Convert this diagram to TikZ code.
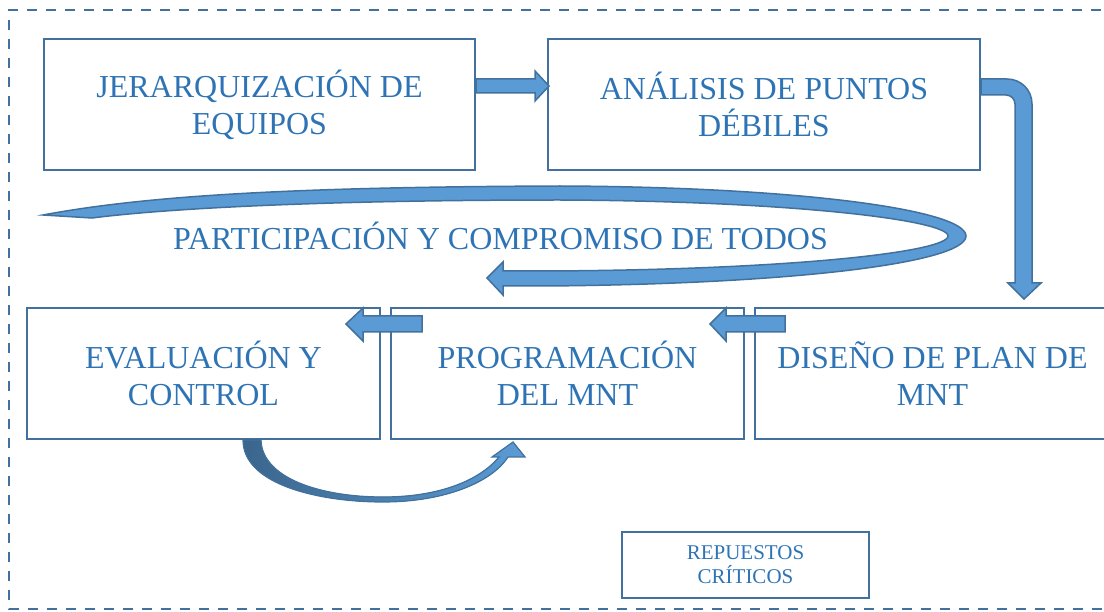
\documentclass[tikz,border=0pt]{standalone}
\usepackage{fontspec}
\setmainfont{Liberation Serif}
\definecolor{txtblue}{HTML}{2E74B5}
\definecolor{lineblue}{HTML}{41719C}
\definecolor{fillblue}{HTML}{5B9BD5}

\begin{document}
\begin{tikzpicture}[x=1pt,y=-1pt,
        box/.style={draw=lineblue,line width=2pt,text=txtblue,align=center,inner sep=0pt,font=\fontsize{32}{37}\selectfont},
        smallbox/.style={box,font=\fontsize{21}{24}\selectfont},
        blk/.style={fill=fillblue,draw=lineblue,line width=1.5pt,line join=miter}]
        \useasboundingbox (0,0) rectangle (1104,612);
        % dashed frame
        \draw[lineblue,line width=1.5pt,dash pattern=on 10pt off 9pt] (1120,10) -- (9,10) -- (9,609) -- (1120,609);
        % boxes
        \node[box,minimum width=431pt,minimum height=131pt] (jer) at (259.5,104.5) {JERARQUIZACIÓN DE\\EQUIPOS};
        \node[box,minimum width=432pt,minimum height=131pt] (ana) at (764,104.5) {ANÁLISIS DE PUNTOS\\DÉBILES};
        \node[box,minimum width=353pt,minimum height=131pt] (eva) at (203.5,373.5) {EVALUACIÓN Y\\CONTROL};
        \node[box,minimum width=353pt,minimum height=131pt] (pro) at (567.5,373.5) {PROGRAMACIÓN\\DEL MNT};
        \node[box,minimum width=355pt,minimum height=131pt] (dis) at (932.5,373.5) {DISEÑO DE PLAN DE\\MNT};
        \node[smallbox,minimum width=247pt,minimum height=66pt] (rep) at (745.5,565) {REPUESTOS\\CRÍTICOS};
        % block arrows
        \filldraw[blk] (476,79) -- (535,79) -- (535,71) -- (549,86) -- (535,101) -- (535,93) -- (476,93) -- cycle;
        \filldraw[blk] (981,79) -- (1007,79) .. controls (1021,79) and (1032,90) .. (1032,104) -- (1032,283)
            -- (1041,283) -- (1024,299) -- (1008,283) -- (1015,283) -- (1015,104)
            .. controls (1015,99) and (1011,95) .. (1006,95) -- (981,95) -- cycle;
        \filldraw[blk] (422,316) -- (363,316) -- (363,308) -- (346,324) -- (363,341) -- (363,332) -- (422,332) -- cycle;
        \filldraw[blk] (785,316) -- (726,316) -- (726,308) -- (710,324) -- (726,341) -- (726,332) -- (785,332) -- cycle;
        % loop round the text
        \filldraw[blk] (43,215) .. controls (150,195) and (300,187) .. (560,186)
            .. controls (800,187) and (966,210) .. (966,236)
            .. controls (966,262) and (800,284) .. (545,286)
            -- (503,286) -- (503,295) -- (487,278) -- (503,262) -- (503,271) -- (545,271)
            .. controls (790,270) and (948,252) .. (948,236)
            .. controls (948,220) and (790,201) .. (560,200)
            .. controls (330,200) and (170,208) .. (92,218) -- cycle;
        \node[text=txtblue,font=\fontsize{32}{37}\selectfont,anchor=base] (par) at (500.5,250) {PARTICIPACIÓN Y COMPROMISO DE TODOS};
        % curved arrow under the boxes
        \filldraw[draw=lineblue,line width=1.2pt,left color=lineblue!90!black,right color=fillblue]
            (243,440) .. controls (243,485) and (320,502) .. (383,502)
            .. controls (445,502) and (492,482) .. (508,457)
            -- (525,457) -- (513,442) -- (492,457) -- (499,457)
            .. controls (480,480) and (440,497) .. (383,497)
            .. controls (320,497) and (262,478) .. (261,440) -- cycle;
    \end{tikzpicture}
\end{document}
